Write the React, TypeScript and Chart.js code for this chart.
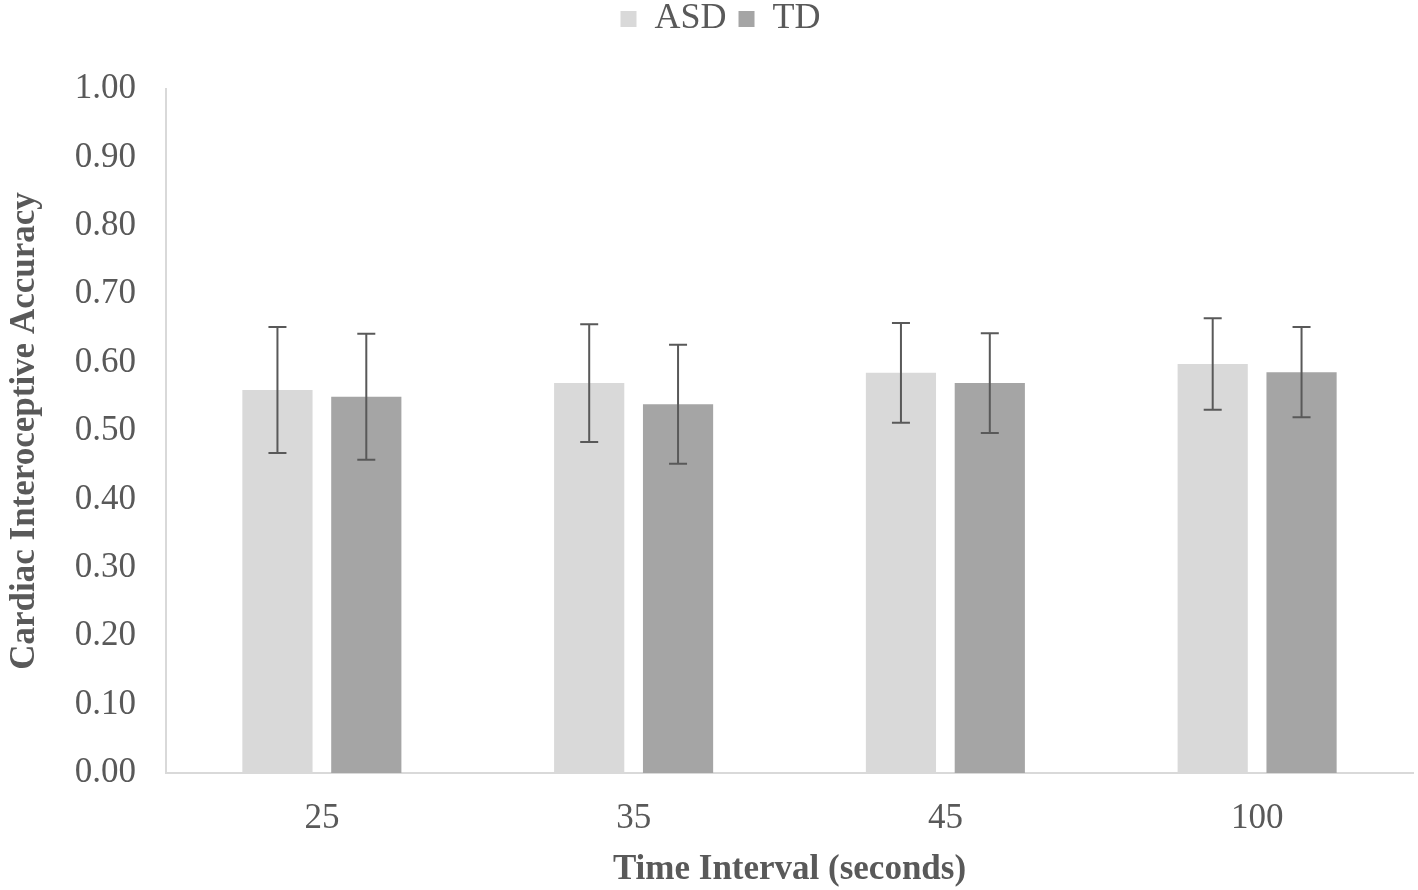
import React, { useEffect, useRef } from "react";
import { Chart, registerables } from "chart.js";

Chart.register(...registerables);

const categories = ["25", "35", "45", "100"];
const asdMeans = [0.56, 0.57, 0.585, 0.598];
const tdMeans = [0.55, 0.539, 0.57, 0.586];
const asdErr = [0.092, 0.086, 0.073, 0.067];
const tdErr = [0.092, 0.087, 0.073, 0.066];

const FONT = "'Liberation Serif', 'Times New Roman', serif";
const TEXT = "#595959";

const errorBarPlugin = {
  id: "errorBars",
  afterDatasetsDraw(chart: any) {
    const ctx = chart.ctx;
    const y = chart.scales.y;
    const errs = [asdErr, tdErr];
    ctx.save();
    ctx.strokeStyle = "#595959";
    ctx.lineWidth = 2;
    chart.data.datasets.forEach((ds: any, di: number) => {
      const meta = chart.getDatasetMeta(di);
      meta.data.forEach((bar: any, i: number) => {
        const v = ds.data[i];
        const e = errs[di][i];
        const x = bar.x;
        const yt = y.getPixelForValue(v + e);
        const yb = y.getPixelForValue(v - e);
        const cap = 9;
        ctx.beginPath();
        ctx.moveTo(x, yt);
        ctx.lineTo(x, yb);
        ctx.moveTo(x - cap, yt);
        ctx.lineTo(x + cap, yt);
        ctx.moveTo(x - cap, yb);
        ctx.lineTo(x + cap, yb);
        ctx.stroke();
      });
    });
    ctx.restore();
  },
};

const legendSpacePlugin = {
  id: "legendSpace",
  afterInit(chart: any) {
    const lg = chart.legend;
    if (!lg) return;
    const orig = lg.fit;
    lg.fit = function () {
      orig.call(this);
      this.height += 42;
    };
  },
  afterLayout(chart: any) {
    const lg = chart.legend;
    if (!lg) return;
    lg.left += 12;
    lg.right += 12;
  },
};

export default function App() {
  const ref = useRef<HTMLCanvasElement>(null);
  useEffect(() => {
    if (!ref.current) return;
    const chart = new Chart(ref.current, {
      type: "bar",
      data: {
        labels: categories,
        datasets: [
          { label: "ASD", data: asdMeans, backgroundColor: "#d9d9d9" },
          { label: "TD", data: tdMeans, backgroundColor: "#a5a5a5" },
        ],
      },
      options: {
        animation: false,
        responsive: false,
        maintainAspectRatio: false,
        layout: { padding: { left: 4, right: 5, top: -11, bottom: 2 } },
        datasets: { bar: { categoryPercentage: 0.57, barPercentage: 0.79 } } as any,
        plugins: {
          legend: {
            position: "top",
            labels: {
              boxWidth: 16,
              boxHeight: 16,
              padding: 12,
              color: TEXT,
              font: { family: FONT, size: 36 },
            },
          },
          tooltip: { enabled: false },
        },
        scales: {
          x: {
            grid: { display: false },
            border: { display: true, color: "#d9d9d9", width: 2 },
            ticks: { color: TEXT, font: { family: FONT, size: 35 }, padding: 17 },
            title: {
              display: true,
              text: "Time Interval (seconds)",
              color: TEXT,
              font: { family: FONT, size: 35, weight: "bold" },
              padding: { top: 0, bottom: -3 },
            },
            afterFit: (s: any) => {
              s.height = 115;
            },
          },
          y: {
            min: 0,
            max: 1,
            grid: { display: false },
            border: { display: true, color: "#d9d9d9", width: 2 },
            ticks: {
              stepSize: 0.1,
              color: TEXT,
              font: { family: FONT, size: 35 },
              padding: 22,
              callback: (v: any) => Number(v).toFixed(2),
            },
            title: {
              display: true,
              text: "Cardiac Interoceptive Accuracy",
              color: TEXT,
              font: { family: FONT, size: 35, weight: "bold" },
              padding: { top: 0, bottom: 0 },
            },
            afterFit: (s: any) => {
              s.width = 162;
            },
          },
        },
      },
      plugins: [errorBarPlugin, legendSpacePlugin],
    });
    return () => chart.destroy();
  }, []);
  return (
    <div style={{ position: "fixed", left: 0, top: 0, width: 1418, height: 890, background: "#fff" }}>
      <canvas ref={ref} width={1418} height={890} style={{ width: 1418, height: 890 }} />
    </div>
  );
}
